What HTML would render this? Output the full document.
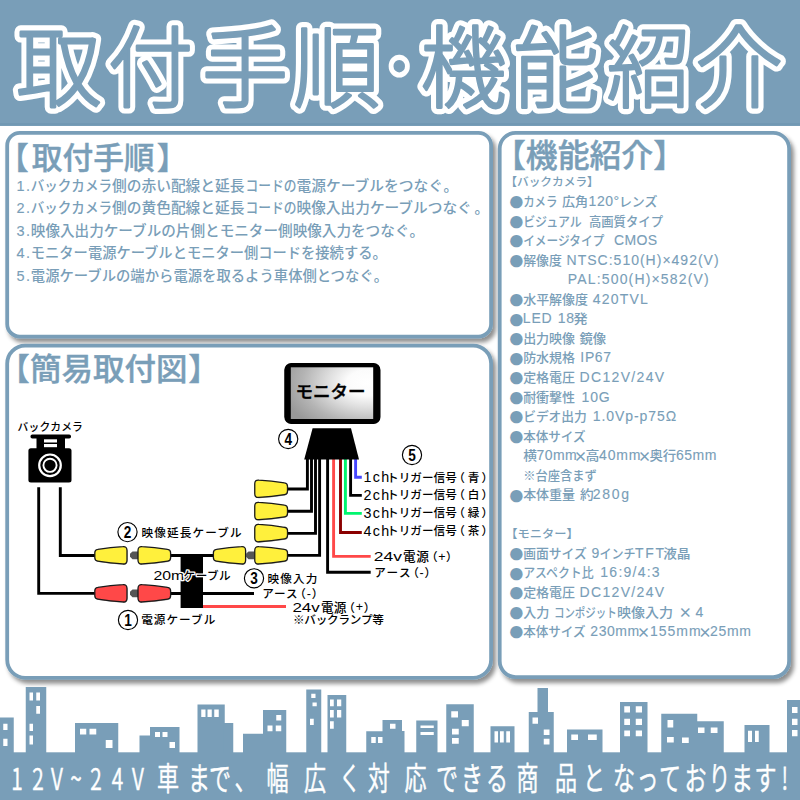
<!DOCTYPE html>
<html lang="ja"><head><meta charset="utf-8"><title>取付手順・機能紹介</title>
<style>html,body{margin:0;padding:0;background:#fff}svg{display:block}text{font-family:'Noto Sans CJK JP', 'Liberation Sans', sans-serif}text.l{font-family:'Liberation Sans','Noto Sans CJK JP',sans-serif}</style>
</head><body>
<svg width="800" height="800" viewBox="0 0 800 800">
<defs>
<filter id="sh" x="-5%" y="-5%" width="112%" height="112%"><feDropShadow dx="3" dy="4" stdDeviation="2.2" flood-color="#000" flood-opacity="0.44"/></filter>
<filter id="soft" x="-10%" y="-10%" width="120%" height="120%"><feGaussianBlur stdDeviation="0.7"/></filter>
<radialGradient id="scr" cx="0.93" cy="0.3" r="1.05" fx="0.93" fy="0.3"><stop offset="0" stop-color="#ffffff"/><stop offset="0.24" stop-color="#fbfbfb"/><stop offset="0.46" stop-color="#dedede"/><stop offset="0.75" stop-color="#b4b4b4"/><stop offset="1" stop-color="#999999"/></radialGradient>
</defs>
<rect width="800" height="800" fill="#fff"/>
<rect x="0" y="0" width="800" height="125.8" fill="#799eb8"/><rect x="0" y="123" width="800" height="2.8" fill="#7198b3"/>
<g font-size="86" font-weight="300" text-anchor="middle" stroke-linejoin="round" stroke-linecap="round">
<g fill="#fff" stroke="#fff" stroke-width="12.8">
<text transform="translate(58.8,99.6) scale(0.985,1.03)">取</text>
<text transform="translate(150.5,99.6) scale(0.990,1.03)">付</text>
<text transform="translate(245.0,99.6) scale(1.000,1.03)">手</text>
<text transform="translate(336.8,99.6) scale(1.000,1.03)">順</text>
<text transform="translate(399.2,86.2) scale(0.950,1.03)" font-size="50">・</text>
<text transform="translate(463.7,99.6) scale(1.000,1.03)">機</text>
<text transform="translate(556.3,99.6) scale(1.000,1.03)">能</text>
<text transform="translate(648.2,99.6) scale(0.965,1.03)">紹</text>
<text transform="translate(739.2,99.6) scale(1.020,1.03)">介</text>
</g>
<g fill="#799eb8" stroke="#799eb8" stroke-width="2.7">
<text transform="translate(58.8,99.6) scale(0.985,1.03)">取</text>
<text transform="translate(150.5,99.6) scale(0.990,1.03)">付</text>
<text transform="translate(245.0,99.6) scale(1.000,1.03)">手</text>
<text transform="translate(336.8,99.6) scale(1.000,1.03)">順</text>
<text transform="translate(399.2,86.2) scale(0.950,1.03)" font-size="50">・</text>
<text transform="translate(463.7,99.6) scale(1.000,1.03)">機</text>
<text transform="translate(556.3,99.6) scale(1.000,1.03)">能</text>
<text transform="translate(648.2,99.6) scale(0.965,1.03)">紹</text>
<text transform="translate(739.2,99.6) scale(1.020,1.03)">介</text>
</g></g>
<rect x="7.2" y="132.8" width="483.9" height="203.8" rx="12.6" ry="12.6" fill="#fff" stroke="#799eb8" stroke-width="3.8" filter="url(#sh)"/>
<rect x="7.2" y="345.6" width="483.9" height="332.2" rx="18.0" ry="18.0" fill="#fff" stroke="#799eb8" stroke-width="3.8" filter="url(#sh)"/>
<rect x="499.7" y="132.8" width="289.4" height="544.3" rx="16.0" ry="16.0" fill="#fff" stroke="#799eb8" stroke-width="3.8" filter="url(#sh)"/>
<g fill="#799eb8">
<text x="-2.2" y="168.5" font-size="31" font-weight="500" stroke="#799eb8" stroke-width="0.4">【</text><text x="31.7" y="168.5" font-size="31" font-weight="500" stroke="#799eb8" stroke-width="0.4" textLength="122.9" lengthAdjust="spacingAndGlyphs">取付手順</text><text x="156.8" y="168.5" font-size="31" font-weight="500" stroke="#799eb8" stroke-width="0.4">】</text>
<text x="16.6" y="190.6" font-size="14.5" class="l" stroke="#799eb8" stroke-width="0.12" textLength="13.5" lengthAdjust="spacing">1.</text>
<text x="30.75" y="190.6" font-size="14.3" font-weight="500" textLength="81.25" lengthAdjust="spacingAndGlyphs">バックカメラ</text>
<text x="112.00" y="190.6" font-size="14.3" font-weight="500" textLength="132.50" lengthAdjust="spacingAndGlyphs">側の赤い配線と延長</text>
<text x="245.50" y="190.6" font-size="14.3" font-weight="500" textLength="51.00" lengthAdjust="spacingAndGlyphs">コードの</text>
<text x="296.50" y="190.6" font-size="14.3" font-weight="500" textLength="146.50" lengthAdjust="spacingAndGlyphs">電源ケーブルをつなぐ</text>
<text x="443.40" y="190.6" font-size="14.3" font-weight="500">。</text>
<text x="16.6" y="213.2" font-size="14.5" class="l" stroke="#799eb8" stroke-width="0.12" textLength="13.5" lengthAdjust="spacing">2.</text>
<text x="30.75" y="213.2" font-size="14.3" font-weight="500" textLength="81.25" lengthAdjust="spacingAndGlyphs">バックカメラ</text>
<text x="112.00" y="213.2" font-size="14.3" font-weight="500" textLength="132.50" lengthAdjust="spacingAndGlyphs">側の黄色配線と延長</text>
<text x="245.50" y="213.2" font-size="14.3" font-weight="500" textLength="51.00" lengthAdjust="spacingAndGlyphs">コードの</text>
<text x="296.50" y="213.2" font-size="14.3" font-weight="500" textLength="175.25" lengthAdjust="spacingAndGlyphs">映像入出力ケーブルつなぐ</text>
<text x="474.40" y="213.2" font-size="14.3" font-weight="500">。</text>
<text x="16.6" y="235.8" font-size="14.5" class="l" stroke="#799eb8" stroke-width="0.12" textLength="13.5" lengthAdjust="spacing">3.</text>
<text x="30.8" y="235.8" font-size="14.3" font-weight="500" textLength="393.2" lengthAdjust="spacingAndGlyphs">映像入出力ケーブルの片側とモニター側映像入力をつなぐ。</text>
<text x="16.6" y="258.4" font-size="14.5" class="l" stroke="#799eb8" stroke-width="0.12" textLength="13.5" lengthAdjust="spacing">4.</text>
<text x="30.8" y="258.4" font-size="14.3" font-weight="500" textLength="355.9" lengthAdjust="spacingAndGlyphs">モニター電源ケーブルとモニター側コードを接続する。</text>
<text x="16.6" y="281.0" font-size="14.5" class="l" stroke="#799eb8" stroke-width="0.12" textLength="13.5" lengthAdjust="spacing">5.</text>
<text x="30.8" y="281.0" font-size="14.3" font-weight="500" textLength="357.2" lengthAdjust="spacingAndGlyphs">電源ケーブルの端から電源を取るよう車体側とつなぐ。</text>
</g>
<g fill="#799eb8">
<text x="494" y="167.2" font-size="32" font-weight="500" stroke="#799eb8" stroke-width="0.4" textLength="191" lengthAdjust="spacingAndGlyphs">【機能紹介】</text>
<text x="509.6" y="207.30" font-size="13.7">●</text>
<text x="523.15" y="206.00" font-size="13" font-weight="500" textLength="34.45" lengthAdjust="spacingAndGlyphs">カメラ</text>
<text x="561.90" y="206.00" font-size="13" font-weight="500" textLength="26.20" lengthAdjust="spacingAndGlyphs">広角</text>
<text x="588.60" y="206.00" font-size="14" class="l" stroke="#799eb8" stroke-width="0.12" textLength="30.50" lengthAdjust="spacing">120°</text>
<text x="618.90" y="206.00" font-size="13" font-weight="500" textLength="38.70" lengthAdjust="spacingAndGlyphs">レンズ</text>
<text x="509.6" y="226.85" font-size="13.7">●</text>
<text x="523.15" y="225.55" font-size="13" font-weight="500" textLength="58.70" lengthAdjust="spacingAndGlyphs">ビジュアル</text>
<text x="588.90" y="225.55" font-size="13" font-weight="500" textLength="74.20" lengthAdjust="spacingAndGlyphs">高画質タイプ</text>
<text x="509.6" y="246.40" font-size="13.7">●</text>
<text x="523.15" y="245.10" font-size="13" font-weight="500" textLength="81.20" lengthAdjust="spacingAndGlyphs">イメージタイプ</text>
<text x="614.10" y="245.10" font-size="14" class="l" stroke="#799eb8" stroke-width="0.12" textLength="43.00" lengthAdjust="spacing">CMOS</text>
<text x="509.6" y="265.95" font-size="13.7">●</text>
<text x="523.15" y="264.65" font-size="13" font-weight="500" textLength="38.70" lengthAdjust="spacingAndGlyphs">解像度</text>
<text x="566.60" y="264.65" font-size="14" class="l" stroke="#799eb8" stroke-width="0.12" textLength="152.00" lengthAdjust="spacing">NTSC:510(H)×492(V)</text>
<text x="567.85" y="284.20" font-size="14" class="l" stroke="#799eb8" stroke-width="0.12" textLength="140.75" lengthAdjust="spacing">PAL:500(H)×582(V)</text>
<text x="509.6" y="305.05" font-size="13.7">●</text>
<text x="523.15" y="303.75" font-size="13" font-weight="500" textLength="64.95" lengthAdjust="spacingAndGlyphs">水平解像度</text>
<text x="592.85" y="303.75" font-size="14" class="l" stroke="#799eb8" stroke-width="0.12" textLength="55.00" lengthAdjust="spacing">420TVL</text>
<text x="509.6" y="324.60" font-size="13.7">●</text>
<text x="522.85" y="323.30" font-size="14" class="l" stroke="#799eb8" stroke-width="0.12" textLength="28.75" lengthAdjust="spacing">LED</text>
<text x="557.85" y="323.30" font-size="14" class="l" stroke="#799eb8" stroke-width="0.12" textLength="16.25" lengthAdjust="spacing">18</text>
<text x="573.15" y="323.30" font-size="13" font-weight="500" textLength="14.45" lengthAdjust="spacingAndGlyphs">発</text>
<text x="509.6" y="344.15" font-size="13.7">●</text>
<text x="523.15" y="342.85" font-size="13" font-weight="500" textLength="51.95" lengthAdjust="spacingAndGlyphs">出力映像</text>
<text x="579.40" y="342.85" font-size="13" font-weight="500" textLength="26.70" lengthAdjust="spacingAndGlyphs">鏡像</text>
<text x="509.6" y="363.70" font-size="13.7">●</text>
<text x="523.15" y="362.40" font-size="13" font-weight="500" textLength="51.95" lengthAdjust="spacingAndGlyphs">防水規格</text>
<text x="580.35" y="362.40" font-size="14" class="l" stroke="#799eb8" stroke-width="0.12" textLength="30.75" lengthAdjust="spacing">IP67</text>
<text x="509.6" y="383.25" font-size="13.7">●</text>
<text x="523.15" y="381.95" font-size="13" font-weight="500" textLength="51.95" lengthAdjust="spacingAndGlyphs">定格電圧</text>
<text x="579.60" y="381.95" font-size="14" class="l" stroke="#799eb8" stroke-width="0.12" textLength="84.50" lengthAdjust="spacing">DC12V/24V</text>
<text x="509.6" y="402.80" font-size="13.7">●</text>
<text x="523.15" y="401.50" font-size="13" font-weight="500" textLength="51.95" lengthAdjust="spacingAndGlyphs">耐衝撃性</text>
<text x="581.60" y="401.50" font-size="14" class="l" stroke="#799eb8" stroke-width="0.12" textLength="28.00" lengthAdjust="spacing">10G</text>
<text x="509.6" y="422.35" font-size="13.7">●</text>
<text x="523.15" y="421.05" font-size="13" font-weight="500" textLength="63.70" lengthAdjust="spacingAndGlyphs">ビデオ出力</text>
<text x="592.85" y="421.05" font-size="14" class="l" stroke="#799eb8" stroke-width="0.12" textLength="83.25" lengthAdjust="spacing">1.0Vp-p75Ω</text>
<text x="509.6" y="441.90" font-size="13.7">●</text>
<text x="523.15" y="440.60" font-size="13" font-weight="500" textLength="62.45" lengthAdjust="spacingAndGlyphs">本体サイズ</text>
<text x="523.15" y="460.15" font-size="13" font-weight="500" textLength="13.70" lengthAdjust="spacingAndGlyphs">横</text>
<text x="536.60" y="460.15" font-size="14" class="l" stroke="#799eb8" stroke-width="0.12" textLength="40.00" lengthAdjust="spacing">70mm</text>
<text x="580.50" y="460.55" font-size="13.5" font-weight="700" text-anchor="middle">×</text>
<text x="585.40" y="460.15" font-size="13" font-weight="500" textLength="13.95" lengthAdjust="spacingAndGlyphs">高</text>
<text x="599.10" y="460.15" font-size="14" class="l" stroke="#799eb8" stroke-width="0.12" textLength="41.25" lengthAdjust="spacing">40mm</text>
<text x="644.50" y="460.55" font-size="13.5" font-weight="700" text-anchor="middle">×</text>
<text x="649.40" y="460.15" font-size="13" font-weight="500" textLength="26.90" lengthAdjust="spacingAndGlyphs">奥行</text>
<text x="676.10" y="460.15" font-size="14" class="l" stroke="#799eb8" stroke-width="0.12" textLength="40.30" lengthAdjust="spacing">65mm</text>
<text x="523.15" y="479.70" font-size="13" font-weight="500" textLength="73.70" lengthAdjust="spacingAndGlyphs">※台座含まず</text>
<text x="509.6" y="500.55" font-size="13.7">●</text>
<text x="523.15" y="499.25" font-size="13" font-weight="500" textLength="51.95" lengthAdjust="spacingAndGlyphs">本体重量</text>
<text x="579.90" y="499.25" font-size="13" font-weight="500" textLength="13.70" lengthAdjust="spacingAndGlyphs">約</text>
<text x="592.85" y="499.25" font-size="14" class="l" stroke="#799eb8" stroke-width="0.12" textLength="36.25" lengthAdjust="spacing">280g</text>
<text x="509.6" y="559.20" font-size="13.7">●</text>
<text x="523.15" y="557.90" font-size="13" font-weight="500" textLength="63.70" lengthAdjust="spacingAndGlyphs">画面サイズ</text>
<text x="591.60" y="557.90" font-size="14" class="l" stroke="#799eb8" stroke-width="0.12" textLength="9.50" lengthAdjust="spacing">9</text>
<text x="599.40" y="557.90" font-size="13" font-weight="500" textLength="36.20" lengthAdjust="spacingAndGlyphs">インチ</text>
<text x="635.10" y="557.90" font-size="14" class="l" stroke="#799eb8" stroke-width="0.12" textLength="29.00" lengthAdjust="spacing">TFT</text>
<text x="663.15" y="557.90" font-size="13" font-weight="500" textLength="27.45" lengthAdjust="spacingAndGlyphs">液晶</text>
<text x="509.6" y="578.75" font-size="13.7">●</text>
<text x="523.15" y="577.45" font-size="13" font-weight="500" textLength="70.45" lengthAdjust="spacingAndGlyphs">アスペクト比</text>
<text x="600.35" y="577.45" font-size="14" class="l" stroke="#799eb8" stroke-width="0.12" textLength="59.25" lengthAdjust="spacing">16:9/4:3</text>
<text x="509.6" y="598.30" font-size="13.7">●</text>
<text x="523.15" y="597.00" font-size="13" font-weight="500" textLength="51.95" lengthAdjust="spacingAndGlyphs">定格電圧</text>
<text x="579.60" y="597.00" font-size="14" class="l" stroke="#799eb8" stroke-width="0.12" textLength="84.50" lengthAdjust="spacing">DC12V/24V</text>
<text x="509.6" y="617.85" font-size="13.7">●</text>
<text x="523.15" y="616.55" font-size="13" font-weight="500" textLength="26.20" lengthAdjust="spacingAndGlyphs">入力</text>
<text x="553.90" y="616.55" font-size="13" font-weight="500" textLength="62.95" lengthAdjust="spacingAndGlyphs">コンポジット</text>
<text x="616.90" y="616.55" font-size="13" font-weight="500" textLength="56.20" lengthAdjust="spacingAndGlyphs">映像入力</text>
<text x="685.35" y="616.95" font-size="13.5" font-weight="700" text-anchor="middle">×</text>
<text x="695.50" y="616.55" font-size="14" class="l" stroke="#799eb8" stroke-width="0.12" textLength="9.90" lengthAdjust="spacing">4</text>
<text x="509.6" y="637.40" font-size="13.7">●</text>
<text x="523.15" y="636.10" font-size="13" font-weight="500" textLength="62.45" lengthAdjust="spacingAndGlyphs">本体サイズ</text>
<text x="590.35" y="636.10" font-size="14" class="l" stroke="#799eb8" stroke-width="0.12" textLength="48.75" lengthAdjust="spacing">230mm</text>
<text x="643.38" y="636.50" font-size="13.5" font-weight="700" text-anchor="middle">×</text>
<text x="650.10" y="636.10" font-size="14" class="l" stroke="#799eb8" stroke-width="0.12" textLength="50.50" lengthAdjust="spacing">155mm</text>
<text x="705.00" y="636.50" font-size="13.5" font-weight="700" text-anchor="middle">×</text>
<text x="710.10" y="636.10" font-size="14" class="l" stroke="#799eb8" stroke-width="0.12" textLength="40.90" lengthAdjust="spacing">25mm</text>
<text x="505.3" y="186.45" font-size="11.7" font-weight="500">【バックカメラ】</text>
<text x="505.3" y="538.35" font-size="11.7" font-weight="500" textLength="73.5" lengthAdjust="spacingAndGlyphs">【モニター】</text>
</g>
<g fill="#799eb8" font-size="31" font-weight="500" stroke="#799eb8" stroke-width="0.4"><text x="-1.25" y="380.2">【</text><text x="30.1" y="380.2" textLength="157.3" lengthAdjust="spacingAndGlyphs">簡易取付図</text><text x="188.2" y="380.2">】</text></g>
<g fill="none" stroke="#000" stroke-width="2.9" stroke-linejoin="miter">
<path d="M60.3 487.3 V555.5 H96"/>
<path d="M38.7 487.3 V593.4 H96"/>
<path d="M170 555.5 H182 M202 555.5 H215 M170 593.5 H182 M202 593.5 H254"/>
<path d="M202 606.5 H286" stroke="#ff4848"/>
<path d="M307.4 459 V489 H286"/>
<path d="M311.5 459 V511.3 H286"/>
<path d="M315.5 459 V533.4 H286"/>
<path d="M319.6 459 V555.4 H286"/>
<path d="M327.6 459 V572.2 H370.7"/>
<path d="M333.6 459 V556.4 H370.7" stroke="#ff4848"/>
<path d="M340.5 459 V532.5 H361.8" stroke="#8b0000"/>
<path d="M345.4 459 V513.4 H361.8" stroke="#00f56e"/>
<path d="M350.6 459 V495.4 H361.8"/>
<path d="M355.6 459 V477.3 H361.8" stroke="#4646ff"/>
</g>
<rect x="180.6" y="554" width="22.4" height="54" fill="#000"/>
<path d="M97.80 549.46 Q110.90 547.30 122.80 546.67 Q127.00 546.20 127.00 550.40 L127.00 560.20 Q127.00 564.40 122.80 563.93 Q110.90 563.30 97.80 561.14 Q94.80 560.80 94.80 557.80 L94.80 552.80 Q94.80 549.80 97.80 549.46 Z" fill="#000" opacity="0.4" filter="url(#soft)" transform="translate(0.5,0.8)"/>
<path d="M97.80 549.46 Q110.90 547.30 122.80 546.67 Q127.00 546.20 127.00 550.40 L127.00 560.20 Q127.00 564.40 122.80 563.93 Q110.90 563.30 97.80 561.14 Q94.80 560.80 94.80 557.80 L94.80 552.80 Q94.80 549.80 97.80 549.46 Z" fill="#fff03c" stroke="#1a1a1a" stroke-width="1.3"/>
<path d="M138.5 551.4 L132.5 551.4 L130.0 553.8 L130.0 556.8 L132.5 559.2 L138.5 559.2 Z" fill="#555" filter="url(#soft)"/>
<path d="M142.20 546.66 Q154.30 547.30 167.60 549.47 Q170.60 549.80 170.60 552.80 L170.60 557.80 Q170.60 560.80 167.60 561.13 Q154.30 563.30 142.20 563.94 Q138.00 564.40 138.00 560.20 L138.00 550.40 Q138.00 546.20 142.20 546.66 Z" fill="#000" opacity="0.4" filter="url(#soft)" transform="translate(0.5,0.8)"/>
<path d="M142.20 546.66 Q154.30 547.30 167.60 549.47 Q170.60 549.80 170.60 552.80 L170.60 557.80 Q170.60 560.80 167.60 561.13 Q154.30 563.30 142.20 563.94 Q138.00 564.40 138.00 560.20 L138.00 550.40 Q138.00 546.20 142.20 546.66 Z" fill="#fff03c" stroke="#1a1a1a" stroke-width="1.3"/>
<path d="M97.80 587.46 Q110.90 585.30 122.80 584.67 Q127.00 584.20 127.00 588.40 L127.00 598.20 Q127.00 602.40 122.80 601.93 Q110.90 601.30 97.80 599.14 Q94.80 598.80 94.80 595.80 L94.80 590.80 Q94.80 587.80 97.80 587.46 Z" fill="#000" opacity="0.4" filter="url(#soft)" transform="translate(0.5,0.8)"/>
<path d="M97.80 587.46 Q110.90 585.30 122.80 584.67 Q127.00 584.20 127.00 588.40 L127.00 598.20 Q127.00 602.40 122.80 601.93 Q110.90 601.30 97.80 599.14 Q94.80 598.80 94.80 595.80 L94.80 590.80 Q94.80 587.80 97.80 587.46 Z" fill="#ff4848" stroke="#1a1a1a" stroke-width="1.3"/>
<path d="M138.5 589.4 L132.5 589.4 L130.0 591.8 L130.0 594.8 L132.5 597.2 L138.5 597.2 Z" fill="#555" filter="url(#soft)"/>
<path d="M142.20 584.66 Q154.30 585.30 167.60 587.47 Q170.60 587.80 170.60 590.80 L170.60 595.80 Q170.60 598.80 167.60 599.13 Q154.30 601.30 142.20 601.94 Q138.00 602.40 138.00 598.20 L138.00 588.40 Q138.00 584.20 142.20 584.66 Z" fill="#000" opacity="0.4" filter="url(#soft)" transform="translate(0.5,0.8)"/>
<path d="M142.20 584.66 Q154.30 585.30 167.60 587.47 Q170.60 587.80 170.60 590.80 L170.60 595.80 Q170.60 598.80 167.60 599.13 Q154.30 601.30 142.20 601.94 Q138.00 602.40 138.00 598.20 L138.00 588.40 Q138.00 584.20 142.20 584.66 Z" fill="#ff4848" stroke="#1a1a1a" stroke-width="1.3"/>
<path d="M216.40 549.46 Q229.50 547.30 241.40 546.67 Q245.60 546.20 245.60 550.40 L245.60 560.20 Q245.60 564.40 241.40 563.93 Q229.50 563.30 216.40 561.14 Q213.40 560.80 213.40 557.80 L213.40 552.80 Q213.40 549.80 216.40 549.46 Z" fill="#000" opacity="0.4" filter="url(#soft)" transform="translate(0.5,0.8)"/>
<path d="M216.40 549.46 Q229.50 547.30 241.40 546.67 Q245.60 546.20 245.60 550.40 L245.60 560.20 Q245.60 564.40 241.40 563.93 Q229.50 563.30 216.40 561.14 Q213.40 560.80 213.40 557.80 L213.40 552.80 Q213.40 549.80 216.40 549.46 Z" fill="#fff03c" stroke="#1a1a1a" stroke-width="1.3"/>
<path d="M254.5 551.4 L248.5 551.4 L246.0 553.8 L246.0 556.8 L248.5 559.2 L254.5 559.2 Z" fill="#555" filter="url(#soft)"/>
<path d="M258.95 480.11 Q271.12 480.75 284.50 482.92 Q287.50 483.25 287.50 486.25 L287.50 491.25 Q287.50 494.25 284.50 494.58 Q271.12 496.75 258.95 497.39 Q254.75 497.85 254.75 493.65 L254.75 483.85 Q254.75 479.65 258.95 480.11 Z" fill="#000" opacity="0.4" filter="url(#soft)" transform="translate(0.5,0.8)"/>
<path d="M258.95 480.11 Q271.12 480.75 284.50 482.92 Q287.50 483.25 287.50 486.25 L287.50 491.25 Q287.50 494.25 284.50 494.58 Q271.12 496.75 258.95 497.39 Q254.75 497.85 254.75 493.65 L254.75 483.85 Q254.75 479.65 258.95 480.11 Z" fill="#fff03c" stroke="#1a1a1a" stroke-width="1.3"/>
<path d="M258.95 502.36 Q271.12 503.00 284.50 505.17 Q287.50 505.50 287.50 508.50 L287.50 513.50 Q287.50 516.50 284.50 516.83 Q271.12 519.00 258.95 519.64 Q254.75 520.10 254.75 515.90 L254.75 506.10 Q254.75 501.90 258.95 502.36 Z" fill="#000" opacity="0.4" filter="url(#soft)" transform="translate(0.5,0.8)"/>
<path d="M258.95 502.36 Q271.12 503.00 284.50 505.17 Q287.50 505.50 287.50 508.50 L287.50 513.50 Q287.50 516.50 284.50 516.83 Q271.12 519.00 258.95 519.64 Q254.75 520.10 254.75 515.90 L254.75 506.10 Q254.75 501.90 258.95 502.36 Z" fill="#fff03c" stroke="#1a1a1a" stroke-width="1.3"/>
<path d="M258.95 524.46 Q271.12 525.10 284.50 527.27 Q287.50 527.60 287.50 530.60 L287.50 535.60 Q287.50 538.60 284.50 538.93 Q271.12 541.10 258.95 541.74 Q254.75 542.20 254.75 538.00 L254.75 528.20 Q254.75 524.00 258.95 524.46 Z" fill="#000" opacity="0.4" filter="url(#soft)" transform="translate(0.5,0.8)"/>
<path d="M258.95 524.46 Q271.12 525.10 284.50 527.27 Q287.50 527.60 287.50 530.60 L287.50 535.60 Q287.50 538.60 284.50 538.93 Q271.12 541.10 258.95 541.74 Q254.75 542.20 254.75 538.00 L254.75 528.20 Q254.75 524.00 258.95 524.46 Z" fill="#fff03c" stroke="#1a1a1a" stroke-width="1.3"/>
<path d="M258.95 546.66 Q271.12 547.30 284.50 549.47 Q287.50 549.80 287.50 552.80 L287.50 557.80 Q287.50 560.80 284.50 561.13 Q271.12 563.30 258.95 563.94 Q254.75 564.40 254.75 560.20 L254.75 550.40 Q254.75 546.20 258.95 546.66 Z" fill="#000" opacity="0.4" filter="url(#soft)" transform="translate(0.5,0.8)"/>
<path d="M258.95 546.66 Q271.12 547.30 284.50 549.47 Q287.50 549.80 287.50 552.80 L287.50 557.80 Q287.50 560.80 284.50 561.13 Q271.12 563.30 258.95 563.94 Q254.75 564.40 254.75 560.20 L254.75 550.40 Q254.75 546.20 258.95 546.66 Z" fill="#fff03c" stroke="#1a1a1a" stroke-width="1.3"/>
<g fill="#000">
<rect x="30.5" y="434.5" width="40.5" height="4" rx="1.8"/>
<rect x="36.5" y="437" width="28.5" height="12"/>
<rect x="28.4" y="448.3" width="43.1" height="34.3" rx="2.5"/>
</g>
<rect x="44" y="439.3" width="13" height="3.2" fill="#fff"/><rect x="44" y="444" width="13" height="3.2" fill="#fff"/>
<circle cx="50" cy="465.3" r="10.8" fill="none" stroke="#fff" stroke-width="2.2"/>
<circle cx="50" cy="465.3" r="6.6" fill="none" stroke="#fff" stroke-width="1.9"/>
<rect x="284.3" y="363" width="96.2" height="61" rx="7" fill="#000" filter="url(#soft)"/>
<rect x="284.8" y="363.5" width="95.2" height="60" rx="6.5" fill="#000"/>
<rect x="290.8" y="367.3" width="82.4" height="51.7" fill="url(#scr)"/>
<text x="330.6" y="398.2" font-size="17.5" font-weight="500" stroke="#000" stroke-width="0.45" text-anchor="middle" textLength="70" lengthAdjust="spacingAndGlyphs">モニター</text>
<path d="M312.6 428.3 H351 L359 459.6 H304.2 Z" fill="#000"/>
<circle cx="128.0" cy="620.0" r="9.6" fill="#fff" stroke="#000" stroke-width="1.15"/>
<text transform="translate(128.0,626.0) scale(0.82,1)" font-size="16.6" font-weight="700" text-anchor="middle" class="l">1</text>
<circle cx="127.5" cy="532.1" r="9.6" fill="#fff" stroke="#000" stroke-width="1.15"/>
<text transform="translate(127.5,538.1) scale(0.82,1)" font-size="16.6" font-weight="700" text-anchor="middle" class="l">2</text>
<circle cx="254.0" cy="578.3" r="9.6" fill="#fff" stroke="#000" stroke-width="1.15"/>
<text transform="translate(254.0,584.3) scale(0.82,1)" font-size="16.6" font-weight="700" text-anchor="middle" class="l">3</text>
<circle cx="288.2" cy="439.0" r="9.6" fill="#fff" stroke="#000" stroke-width="1.15"/>
<text transform="translate(288.2,445.0) scale(0.82,1)" font-size="16.6" font-weight="700" text-anchor="middle" class="l">4</text>
<circle cx="412.0" cy="455.0" r="9.6" fill="#fff" stroke="#000" stroke-width="1.15"/>
<text transform="translate(412.0,461.0) scale(0.82,1)" font-size="16.6" font-weight="700" text-anchor="middle" class="l">5</text>
<text x="17.62" y="431.00" font-size="10.8" font-weight="500" letter-spacing="0.09">バックカメラ</text>
<text x="141.59" y="537.00" font-size="11.6" font-weight="500" letter-spacing="1.14">映像延長ケーブル</text>
<text x="153.50" y="579.80" font-size="13.2" class="l" textLength="30.70" lengthAdjust="spacingAndGlyphs" stroke="#fff" stroke-width="2.6" paint-order="stroke" stroke-linejoin="round">20m</text>
<text x="183.59" y="579.60" font-size="11.6" font-weight="500" letter-spacing="0.47" stroke="#fff" stroke-width="2.6" paint-order="stroke" stroke-linejoin="round">ケーブル</text>
<text x="141.19" y="624.40" font-size="11.6" font-weight="500" letter-spacing="1.04">電源ケーブル</text>
<text x="267.39" y="583.40" font-size="11.6" font-weight="500" letter-spacing="1.20">映像入力</text>
<text x="262.19" y="597.80" font-size="11.6" font-weight="500" letter-spacing="0.96">アース</text>
<text x="294.34" y="597.80" font-size="11.6" font-weight="500">（</text>
<text x="311.66" y="597.80" font-size="11.6" font-weight="500">）</text>
<text x="308.80" y="597.50" font-size="12.5" class="l" text-anchor="middle">-</text>
<text x="292.40" y="611.90" font-size="13.4" class="l" textLength="27.40" lengthAdjust="spacingAndGlyphs">24v</text>
<text x="320.96" y="611.90" font-size="12.6" font-weight="500" letter-spacing="0.08">電源</text>
<text x="343.34" y="611.70" font-size="11.6" font-weight="500">（</text>
<text x="363.66" y="611.70" font-size="11.6" font-weight="500">）</text>
<text x="359.30" y="611.40" font-size="12.5" class="l" text-anchor="middle">+</text>
<text x="292.89" y="623.70" font-size="11.6" font-weight="500" letter-spacing="-0.20">※バックランプ等</text>
<text x="363.46" y="482.00" font-size="14.3" class="l" letter-spacing="1.32">1ch</text>
<text x="387.09" y="481.60" font-size="11.6" font-weight="500" letter-spacing="0.04">トリガー信号</text>
<text x="453.34" y="481.60" font-size="11.6" font-weight="500">（</text>
<text x="481.46" y="481.60" font-size="11.6" font-weight="500">）</text>
<text x="473.45" y="481.60" font-size="11.6" font-weight="500" text-anchor="middle">青</text>
<text x="363.46" y="499.60" font-size="14.3" class="l" letter-spacing="1.32">2ch</text>
<text x="387.09" y="499.20" font-size="11.6" font-weight="500" letter-spacing="0.04">トリガー信号</text>
<text x="453.34" y="499.20" font-size="11.6" font-weight="500">（</text>
<text x="481.46" y="499.20" font-size="11.6" font-weight="500">）</text>
<text x="473.45" y="499.20" font-size="11.6" font-weight="500" text-anchor="middle">白</text>
<text x="363.46" y="517.80" font-size="14.3" class="l" letter-spacing="1.32">3ch</text>
<text x="387.09" y="517.40" font-size="11.6" font-weight="500" letter-spacing="0.04">トリガー信号</text>
<text x="453.34" y="517.40" font-size="11.6" font-weight="500">（</text>
<text x="481.46" y="517.40" font-size="11.6" font-weight="500">）</text>
<text x="473.45" y="517.40" font-size="11.6" font-weight="500" text-anchor="middle">緑</text>
<text x="363.46" y="535.80" font-size="14.3" class="l" letter-spacing="1.32">4ch</text>
<text x="387.09" y="535.40" font-size="11.6" font-weight="500" letter-spacing="0.04">トリガー信号</text>
<text x="453.34" y="535.40" font-size="11.6" font-weight="500">（</text>
<text x="481.46" y="535.40" font-size="11.6" font-weight="500">）</text>
<text x="473.45" y="535.40" font-size="11.6" font-weight="500" text-anchor="middle">茶</text>
<text x="373.80" y="561.30" font-size="13.4" class="l" textLength="28.10" lengthAdjust="spacingAndGlyphs">24v</text>
<text x="403.06" y="561.30" font-size="12.6" font-weight="500" letter-spacing="0.68">電源</text>
<text x="426.04" y="561.10" font-size="11.6" font-weight="500">（</text>
<text x="446.06" y="561.10" font-size="11.6" font-weight="500">）</text>
<text x="441.85" y="560.80" font-size="12.5" class="l" text-anchor="middle">+</text>
<text x="374.29" y="576.80" font-size="11.6" font-weight="500" letter-spacing="1.36">アース</text>
<text x="407.14" y="576.80" font-size="11.6" font-weight="500">（</text>
<text x="424.56" y="576.80" font-size="11.6" font-weight="500">）</text>
<text x="421.65" y="576.50" font-size="12.5" class="l" text-anchor="middle">-</text>
<g fill="#799eb8">
<rect x="0" y="752.3" width="800" height="48"/>
<rect x="0.00" y="717.50" width="13.75" height="35.50"/>
<rect x="25.75" y="687.00" width="20.50" height="66.00"/>
<rect x="75.00" y="723.00" width="43.25" height="30.00"/>
<rect x="139.50" y="735.50" width="11.50" height="17.50"/>
<rect x="150.00" y="727.00" width="29.50" height="26.00"/>
<rect x="197.50" y="704.50" width="27.25" height="48.50"/>
<rect x="223.75" y="723.00" width="9.50" height="30.00"/>
<rect x="243.00" y="733.75" width="21.00" height="19.25"/>
<rect x="263.00" y="710.00" width="23.25" height="43.00"/>
<rect x="306.25" y="689.50" width="15.00" height="63.50"/>
<rect x="327.50" y="695.00" width="18.75" height="58.00"/>
<rect x="366.25" y="731.25" width="17.25" height="21.75"/>
<rect x="382.50" y="720.00" width="19.50" height="33.00"/>
<rect x="401.00" y="731.00" width="3.50" height="22.00"/>
<rect x="416.25" y="720.50" width="21.25" height="32.50"/>
<rect x="446.25" y="704.25" width="27.50" height="48.75"/>
<rect x="490.50" y="726.25" width="24.00" height="26.75"/>
<rect x="537.50" y="688.00" width="10.50" height="65.00"/>
<rect x="528.75" y="712.00" width="25.00" height="41.00"/>
<rect x="567.00" y="729.50" width="35.50" height="23.50"/>
<rect x="620.00" y="702.00" width="27.50" height="51.00"/>
<rect x="661.25" y="713.75" width="36.00" height="39.25"/>
<rect x="696.25" y="721.25" width="27.50" height="31.75"/>
<rect x="744.50" y="725.00" width="25.00" height="28.00"/>
<rect x="787.00" y="700.00" width="13.00" height="53.00"/>
</g>
<g fill="#fff">
<rect x="3.25" y="723.75" width="4.25" height="6.25"/>
<rect x="3.25" y="738.75" width="4.25" height="7.25"/>
<rect x="29.50" y="692.50" width="3.50" height="8.00"/>
<rect x="36.25" y="692.50" width="3.75" height="8.00"/>
<rect x="36.25" y="706.00" width="3.75" height="7.75"/>
<rect x="29.50" y="723.75" width="3.50" height="7.25"/>
<rect x="29.50" y="735.50" width="3.50" height="9.00"/>
<rect x="80.00" y="728.75" width="6.25" height="5.75"/>
<rect x="89.50" y="728.75" width="6.75" height="5.75"/>
<rect x="105.75" y="740.00" width="6.75" height="8.00"/>
<rect x="155.00" y="732.00" width="5.00" height="5.00"/>
<rect x="162.50" y="732.00" width="5.00" height="5.00"/>
<rect x="169.50" y="742.00" width="5.50" height="6.00"/>
<rect x="201.25" y="709.50" width="4.25" height="7.50"/>
<rect x="207.50" y="709.50" width="4.25" height="7.50"/>
<rect x="214.25" y="709.50" width="4.50" height="7.50"/>
<rect x="276.25" y="715.00" width="5.00" height="5.50"/>
<rect x="267.50" y="725.50" width="5.00" height="5.75"/>
<rect x="275.75" y="725.50" width="5.50" height="5.75"/>
<rect x="311.25" y="693.75" width="4.25" height="4.25"/>
<rect x="312.50" y="702.50" width="4.25" height="3.75"/>
<rect x="310.00" y="718.75" width="3.75" height="6.25"/>
<rect x="330.00" y="699.50" width="3.75" height="6.75"/>
<rect x="337.00" y="699.50" width="4.25" height="6.75"/>
<rect x="330.00" y="710.00" width="3.75" height="7.50"/>
<rect x="337.00" y="710.00" width="4.25" height="7.50"/>
<rect x="330.00" y="721.25" width="3.75" height="7.50"/>
<rect x="371.25" y="737.00" width="4.50" height="6.00"/>
<rect x="378.00" y="737.00" width="4.50" height="6.00"/>
<rect x="390.00" y="723.75" width="5.50" height="5.00"/>
<rect x="420.50" y="725.50" width="13.25" height="2.50"/>
<rect x="420.50" y="732.00" width="13.25" height="3.00"/>
<rect x="451.25" y="711.25" width="6.75" height="6.25"/>
<rect x="461.75" y="720.00" width="7.00" height="6.25"/>
<rect x="452.00" y="728.75" width="6.75" height="5.75"/>
<rect x="452.00" y="738.00" width="6.75" height="5.75"/>
<rect x="494.50" y="731.25" width="3.50" height="11.25"/>
<rect x="500.00" y="731.25" width="3.75" height="11.25"/>
<rect x="506.25" y="731.25" width="3.75" height="11.25"/>
<rect x="532.50" y="717.50" width="5.50" height="6.25"/>
<rect x="543.75" y="729.50" width="5.75" height="5.50"/>
<rect x="543.75" y="738.75" width="5.75" height="5.75"/>
<rect x="571.25" y="734.50" width="6.75" height="5.50"/>
<rect x="588.00" y="734.50" width="8.75" height="5.50"/>
<rect x="624.25" y="706.25" width="5.75" height="6.25"/>
<rect x="635.75" y="706.25" width="6.25" height="6.25"/>
<rect x="624.25" y="718.75" width="5.75" height="6.25"/>
<rect x="635.75" y="718.75" width="6.25" height="6.25"/>
<rect x="624.25" y="730.50" width="5.75" height="5.75"/>
<rect x="635.75" y="730.50" width="6.25" height="5.75"/>
<rect x="667.50" y="720.00" width="5.75" height="7.50"/>
<rect x="667.00" y="737.00" width="6.75" height="5.50"/>
<rect x="682.00" y="737.50" width="6.75" height="5.50"/>
<rect x="698.00" y="727.50" width="6.50" height="5.50"/>
<rect x="710.75" y="727.50" width="6.75" height="5.50"/>
<rect x="748.00" y="730.75" width="4.00" height="11.25"/>
<rect x="755.00" y="730.75" width="3.75" height="11.25"/>
<rect x="792.00" y="707.00" width="5.50" height="6.00"/>
<rect x="792.00" y="718.75" width="5.50" height="6.25"/>
<rect x="792.00" y="730.00" width="5.50" height="6.25"/>
</g>
<g fill="#fff" font-size="29" font-weight="350" stroke="#fff" stroke-width="0.55" text-anchor="middle">
<text transform="translate(17.0,790.3) scale(0.72,1.05)">1</text>
<text transform="translate(38.0,790.3) scale(0.72,1.05)">2</text>
<text transform="translate(57.0,790.3) scale(0.72,1.05)">V</text>
<text transform="translate(76.0,790.3) scale(0.72,1.05)">~</text>
<text transform="translate(96.0,790.3) scale(0.72,1.05)">2</text>
<text transform="translate(117.5,790.3) scale(0.72,1.05)">4</text>
<text transform="translate(138.0,790.3) scale(0.72,1.05)">V</text>
<text transform="translate(168.0,790.3) scale(0.76,1.10)">車</text>
<text transform="translate(199.0,790.3) scale(0.76,1.10)">ま</text>
<text transform="translate(220.0,790.3) scale(0.76,1.10)">で</text>
<text transform="translate(245.6,790.3) scale(0.76,1.10)">、</text>
<text transform="translate(277.5,790.3) scale(0.76,1.10)">幅</text>
<text transform="translate(315.0,790.3) scale(0.76,1.10)">広</text>
<text transform="translate(350.0,790.3) scale(0.76,1.10)">く</text>
<text transform="translate(378.8,790.3) scale(0.76,1.10)">対</text>
<text transform="translate(415.6,790.3) scale(0.76,1.10)">応</text>
<text transform="translate(447.0,790.3) scale(0.76,1.10)">で</text>
<text transform="translate(472.0,790.3) scale(0.76,1.10)">き</text>
<text transform="translate(497.0,790.3) scale(0.76,1.10)">る</text>
<text transform="translate(527.5,790.3) scale(0.76,1.10)">商</text>
<text transform="translate(566.0,790.3) scale(0.76,1.10)">品</text>
<text transform="translate(594.0,790.3) scale(0.76,1.10)">と</text>
<text transform="translate(624.0,790.3) scale(0.76,1.10)">な</text>
<text transform="translate(647.5,790.3) scale(0.76,1.10)">っ</text>
<text transform="translate(670.0,790.3) scale(0.76,1.10)">て</text>
<text transform="translate(695.6,790.3) scale(0.76,1.10)">お</text>
<text transform="translate(719.4,790.3) scale(0.76,1.10)">り</text>
<text transform="translate(742.0,790.3) scale(0.76,1.10)">ま</text>
<text transform="translate(765.6,790.3) scale(0.76,1.10)">す</text>
<text transform="translate(784.8,790.3) scale(0.72,1.05)">!</text>
</g>
</svg></body></html>
